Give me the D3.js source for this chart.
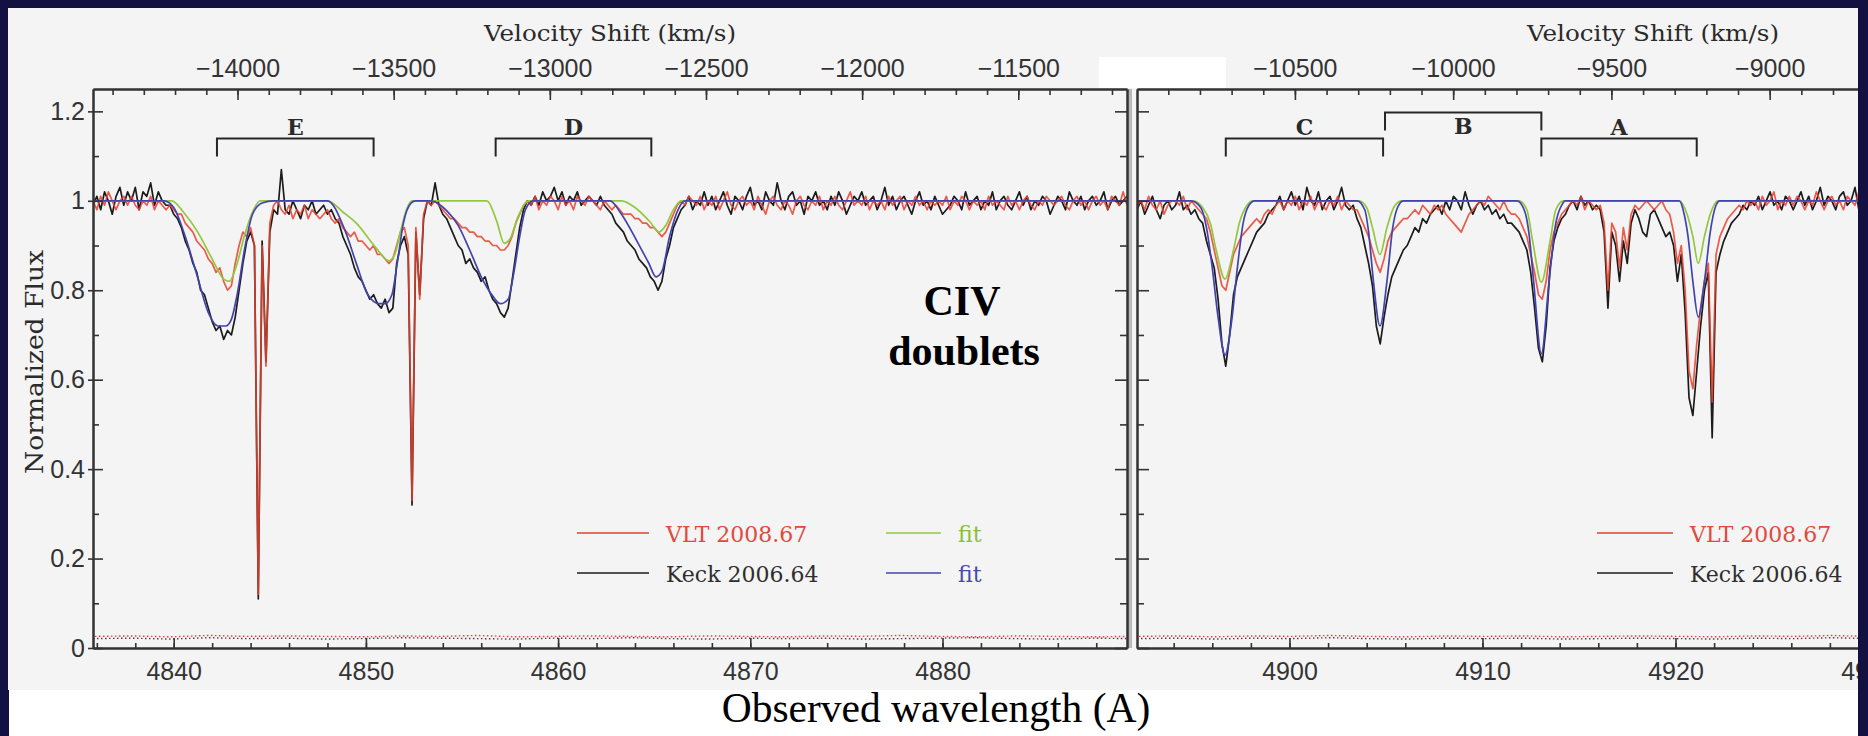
<!DOCTYPE html>
<html>
<head>
<meta charset="utf-8">
<script src="https://cdn.jsdelivr.net/npm/d3@7"></script>
<style>
  html, body { margin: 0; padding: 0; background: #131142; }
  svg { display: block; }
</style>
</head>
<body>
<svg id="chart" width="1868" height="736"></svg>
<script>
// ---------------------------------------------------------------
// CIV absorption doublets: VLT 2008.67 and Keck 2006.64 spectra
// ---------------------------------------------------------------

// CIV 1548 rest line at the quasar redshift (Angstrom), for the velocity axis
const restWavelength = 5075.0;
const lightSpeed = 299792.458;

// Spectra are sampled on a regular wavelength grid (Angstrom)
const gridStep = 0.2;
const leftStart = 4835.8;
const rightStart = 4892.1;

// Normalized flux, left panel (4835.8 - 4889.6 A)
const keckFluxLeft = [
  0.99,1.01,0.98,1.02,1.00,0.97,1.01,1.03,0.99,1.02,
  1.00,1.03,0.98,1.02,1.01,1.04,0.99,1.02,1.00,0.99,
  0.99,0.97,0.96,0.94,0.91,0.89,0.86,0.84,0.80,0.79,
  0.76,0.73,0.71,0.72,0.69,0.71,0.70,0.74,0.80,0.86,
  0.91,0.93,0.90,0.11,0.91,0.64,0.93,0.98,0.97,1.07,
  0.98,0.97,1.00,0.98,0.96,0.99,0.98,1.00,0.97,0.98,
  0.99,0.97,0.98,0.96,0.95,0.92,0.90,0.88,0.85,0.83,
  0.82,0.80,0.78,0.79,0.77,0.76,0.78,0.75,0.76,0.86,
  0.90,0.92,0.88,0.32,0.93,0.79,0.96,1.00,0.99,1.04,
  0.99,0.97,0.96,0.94,0.92,0.90,0.89,0.86,0.87,0.85,
  0.84,0.82,0.83,0.80,0.78,0.77,0.75,0.74,0.76,0.82,
  0.88,0.94,0.98,1.00,0.99,1.01,0.99,1.02,1.00,1.01,
  1.03,1.00,1.02,0.99,1.01,1.00,1.02,0.99,1.00,1.01,
  1.00,0.99,1.01,0.99,0.98,0.97,0.95,0.94,0.93,0.91,
  0.90,0.89,0.87,0.86,0.85,0.83,0.82,0.80,0.82,0.87,
  0.90,0.94,0.96,0.98,0.99,1.01,0.98,1.00,0.99,1.02,
  0.99,1.01,0.98,1.00,1.02,0.99,0.97,1.01,1.00,0.98,
  1.01,1.03,0.99,1.00,0.98,1.02,1.00,0.99,1.04,1.00,
  0.98,1.01,1.02,0.99,1.00,0.97,1.01,1.00,1.02,0.99,
  1.00,0.98,1.01,0.99,1.02,1.00,0.97,0.99,1.01,1.00,
  1.02,0.99,1.00,1.01,0.98,1.00,1.03,0.99,1.01,0.98,
  1.00,1.01,0.99,0.97,1.00,1.02,0.99,1.00,0.98,1.01,
  0.99,0.97,0.98,0.99,1.01,1.00,0.98,1.02,0.99,1.00,
  1.01,0.98,1.00,0.99,1.02,0.98,1.00,1.01,0.99,0.98,
  1.00,1.02,0.99,1.01,0.98,1.00,0.99,1.01,1.00,0.97,
  0.99,1.01,1.00,0.98,1.02,1.00,0.99,1.01,0.98,1.00,
  1.01,0.99,1.00,1.02,0.98,1.00,1.01,0.99,1.00,1.01
];
const vltFluxLeft = [
  1.00,0.98,1.01,0.99,1.02,1.00,0.98,1.00,1.01,0.99,
  1.01,0.99,0.98,1.00,0.99,1.01,0.98,1.00,0.99,0.98,
  0.99,0.98,0.97,0.97,0.95,0.94,0.93,0.91,0.90,0.89,
  0.87,0.86,0.84,0.85,0.82,0.80,0.81,0.86,0.90,0.93,
  0.92,0.94,0.90,0.12,0.90,0.63,0.95,0.99,1.00,0.98,
  0.97,0.99,0.96,0.98,0.97,0.99,0.96,0.98,0.97,0.96,
  0.97,0.98,0.96,0.95,0.96,0.94,0.93,0.92,0.93,0.91,
  0.91,0.90,0.89,0.90,0.88,0.88,0.87,0.86,0.87,0.90,
  0.93,0.94,0.90,0.33,0.94,0.78,0.97,1.00,0.99,1.00,
  0.99,0.98,0.97,0.96,0.96,0.95,0.94,0.94,0.93,0.93,
  0.92,0.92,0.91,0.91,0.90,0.90,0.89,0.89,0.90,0.92,
  0.95,0.97,0.99,1.00,0.99,1.01,0.98,1.00,0.99,1.01,
  1.00,0.98,1.01,0.99,1.00,0.98,1.01,1.00,0.99,1.01,
  1.00,0.99,0.98,1.00,0.99,0.98,0.99,0.98,0.97,0.97,
  0.97,0.96,0.96,0.95,0.95,0.94,0.94,0.93,0.92,0.93,
  0.95,0.97,0.99,1.00,0.99,1.01,1.00,0.99,1.01,0.98,
  1.00,0.99,1.01,0.98,1.00,1.02,0.99,0.98,1.00,1.01,
  0.99,1.00,0.98,1.01,0.99,0.97,1.00,1.01,0.99,0.98,
  1.00,0.99,0.97,1.00,1.01,0.99,0.98,1.00,0.99,1.01,
  0.98,1.00,0.99,1.01,0.99,0.98,1.00,1.02,0.99,1.00,
  0.99,1.01,0.98,1.00,0.99,1.00,0.98,1.01,0.99,1.00,
  1.01,0.98,1.00,0.99,1.01,0.99,1.00,0.98,1.00,0.99,
  1.00,0.99,1.01,0.98,1.00,0.99,1.01,1.00,0.98,1.00,
  0.99,1.00,0.98,1.01,0.99,1.00,0.99,0.98,1.01,0.99,
  1.00,0.98,1.00,1.01,0.99,0.98,1.00,0.99,1.01,1.00,
  0.99,1.00,1.01,0.99,0.98,1.00,1.01,0.99,1.00,0.98,
  1.00,1.01,0.99,1.00,0.98,1.01,1.00,0.99,1.02,0.99
];

// Normalized flux, right panel (4892.1 - 4929.9 A)
const keckFluxRight = [
  0.98,1.00,0.97,0.99,1.01,0.98,0.96,0.99,1.00,0.98,
  0.99,1.02,0.98,0.99,0.97,0.98,0.96,0.95,0.91,0.88,
  0.85,0.78,0.68,0.63,0.70,0.79,0.83,0.85,0.87,0.89,
  0.91,0.93,0.94,0.95,0.97,0.98,0.99,1.01,0.98,1.00,
  1.02,0.99,1.01,0.98,1.03,1.00,0.99,1.02,0.98,1.00,
  1.01,0.98,1.00,1.03,0.99,0.98,0.99,0.96,0.94,0.90,
  0.86,0.81,0.72,0.68,0.74,0.79,0.83,0.85,0.87,0.89,
  0.90,0.92,0.94,0.93,0.96,0.95,0.97,0.98,0.99,0.97,
  1.00,0.98,1.01,1.00,0.98,1.02,0.99,0.97,0.99,1.00,
  0.98,0.99,0.97,0.98,0.96,0.97,0.95,0.95,0.94,0.93,
  0.91,0.89,0.84,0.76,0.67,0.64,0.72,0.85,0.91,0.94,
  0.96,0.97,0.99,1.00,0.98,1.01,0.99,1.00,0.98,0.99,
  0.98,0.93,0.76,0.93,0.90,0.82,0.91,0.86,0.95,0.98,
  0.96,0.93,0.92,0.97,0.98,0.96,0.94,0.92,0.93,0.90,
  0.82,0.88,0.75,0.56,0.52,0.62,0.72,0.80,0.84,0.47,
  0.84,0.88,0.91,0.93,0.95,0.96,0.97,0.99,0.98,1.00,
  0.99,1.01,0.98,1.00,1.02,0.99,1.00,0.98,1.01,1.00,
  0.98,1.00,1.02,0.99,1.01,0.98,1.00,1.03,0.99,1.01,
  1.00,0.98,1.01,1.02,0.99,1.00,1.03,0.98,1.01,0.99
];
const vltFluxRight = [
  0.99,1.00,0.98,1.01,0.99,0.98,1.00,0.97,0.99,1.00,
  1.00,0.99,1.01,0.98,1.00,0.99,0.98,0.97,0.96,0.93,
  0.89,0.85,0.81,0.80,0.84,0.88,0.90,0.92,0.93,0.94,
  0.95,0.96,0.95,0.97,0.98,0.97,0.99,1.00,0.98,1.00,
  0.99,1.01,0.98,1.00,0.99,1.01,0.98,1.00,0.99,0.98,
  1.00,0.99,1.01,0.98,1.00,0.99,0.98,0.98,0.96,0.94,
  0.92,0.89,0.86,0.84,0.87,0.91,0.93,0.94,0.95,0.96,
  0.96,0.97,0.98,0.97,0.99,0.98,0.97,0.99,0.98,0.99,
  0.97,0.96,0.95,0.94,0.93,0.95,0.97,0.98,0.99,1.00,
  0.99,1.01,1.00,0.99,0.98,1.00,0.98,0.97,0.97,0.96,
  0.94,0.92,0.88,0.84,0.79,0.78,0.82,0.89,0.93,0.95,
  0.97,0.98,0.99,1.00,0.99,1.01,0.98,1.00,0.99,0.98,
  0.99,0.95,0.80,0.95,0.93,0.85,0.94,0.89,0.97,0.99,
  0.98,0.99,1.00,0.99,0.98,0.99,1.00,0.98,0.97,0.93,
  0.86,0.90,0.80,0.62,0.58,0.68,0.76,0.82,0.86,0.55,
  0.88,0.92,0.94,0.96,0.97,0.98,0.99,0.98,1.00,0.99,
  1.00,0.98,1.01,0.99,1.00,1.02,0.98,1.00,0.99,1.01,
  0.99,1.01,1.00,0.98,1.00,0.99,1.02,1.00,0.98,1.00,
  1.01,0.99,1.00,0.98,1.01,1.00,0.99,1.02,1.00,0.99
];

// Profile fits, as [wavelength, flux] nodes
const keckFitLeft = [
  [4835.8,1],[4839.5,1],[4840.0,0.985],[4840.6,0.92],[4841.2,0.835],[4841.8,0.75],
  [4842.3,0.72],[4842.7,0.72],[4843.0,0.735],[4843.3,0.79],[4843.7,0.895],[4844.1,0.97],
  [4844.6,0.995],[4845.2,1],
  [4848.0,1],[4848.9,0.935],[4849.5,0.86],[4850.1,0.79],[4850.7,0.77],[4851.0,0.77],
  [4851.35,0.79],[4851.65,0.866],[4851.95,0.95],[4852.35,0.995],[4852.6,1],
  [4853.4,1],[4854.2,0.978],[4854.8,0.945],[4855.4,0.89],[4856.0,0.83],[4856.6,0.787],
  [4857.0,0.77],[4857.4,0.78],[4857.7,0.84],[4858.0,0.92],[4858.3,0.98],[4858.7,1],
  [4862.7,1],[4863.3,0.97],[4864.1,0.91],[4864.7,0.862],[4865.1,0.83],[4865.4,0.842],
  [4865.8,0.92],[4866.2,0.976],[4866.6,1],[4889.6,1]
];
const vltFitLeft = [
  [4835.8,1],[4839.9,1],[4840.5,0.975],[4841.25,0.93],[4842.0,0.87],[4842.6,0.825],
  [4842.9,0.82],[4843.3,0.86],[4843.7,0.925],[4844.1,0.975],[4844.5,1],
  [4848.0,1],[4848.8,0.975],[4849.5,0.95],[4850.5,0.896],[4851.2,0.866],[4851.5,0.88],
  [4851.85,0.94],[4852.15,0.985],[4852.4,1],
  [4856.3,1],[4856.8,0.955],[4857.2,0.905],[4857.5,0.915],[4857.9,0.963],[4858.3,0.995],[4858.5,1],
  [4863.3,1],[4864.0,0.985],[4864.8,0.952],[4865.25,0.93],[4865.6,0.945],[4866.0,0.98],
  [4866.4,1],[4889.6,1]
];
const keckFitRight = [
  [4892.1,1],[4894.9,1],[4895.4,0.985],[4895.7,0.94],[4896.0,0.85],[4896.3,0.74],
  [4896.66,0.655],[4897.0,0.73],[4897.3,0.85],[4897.6,0.95],[4897.9,0.99],[4898.2,1],
  [4903.5,1],[4903.9,0.98],[4904.1,0.93],[4904.35,0.82],[4904.69,0.72],[4905.05,0.82],
  [4905.35,0.94],[4905.6,0.985],[4905.9,1],
  [4911.8,1],[4912.2,0.975],[4912.4,0.93],[4912.65,0.82],[4913.05,0.658],[4913.45,0.82],
  [4913.8,0.95],[4914.1,0.99],[4914.3,1],
  [4920.2,1],[4920.45,0.97],[4920.65,0.92],[4920.9,0.82],[4921.18,0.74],[4921.5,0.82],
  [4921.8,0.93],[4922.1,0.99],[4922.3,1],[4930.0,1]
];
const vltFitRight = [
  [4892.1,1],[4895.0,1],[4895.5,0.985],[4895.9,0.95],[4896.2,0.89],[4896.66,0.825],
  [4897.1,0.89],[4897.4,0.95],[4897.8,0.99],[4898.1,1],
  [4903.6,1],[4904.0,0.985],[4904.3,0.94],[4904.69,0.88],[4905.05,0.94],[4905.4,0.985],[4905.8,1],
  [4911.9,1],[4912.3,0.98],[4912.6,0.91],[4913.05,0.818],[4913.5,0.91],[4913.8,0.98],[4914.2,1],
  [4920.2,1],[4920.6,0.97],[4920.9,0.92],[4921.18,0.86],[4921.5,0.92],[4921.8,0.97],
  [4922.2,1],[4930.0,1]
];

// Flux errors, sampled every 2 A from each panel's left edge
const errStep = 2;
const keckErrLeft = [0.021,0.022,0.020,0.023,0.021,0.022,0.020,0.021,0.023,0.022,0.021,0.020,0.022,0.021,
                     0.023,0.021,0.020,0.022,0.021,0.022,0.020,0.021,0.022,0.023,0.021,0.020,0.022,0.021];
const vltErrLeft  = [0.026,0.027,0.025,0.028,0.026,0.027,0.026,0.025,0.027,0.026,0.028,0.025,0.026,0.027,
                     0.026,0.025,0.027,0.026,0.025,0.027,0.026,0.028,0.026,0.025,0.027,0.026,0.025,0.026];
const keckErrRight = [0.021,0.022,0.020,0.022,0.021,0.023,0.021,0.020,0.022,0.021,
                      0.022,0.020,0.021,0.022,0.021,0.020,0.022,0.021,0.023,0.021];
const vltErrRight  = [0.026,0.027,0.025,0.027,0.026,0.028,0.026,0.025,0.027,0.026,
                      0.027,0.025,0.026,0.027,0.026,0.025,0.027,0.026,0.028,0.026];

// Doublet markers: label, blue member and red member wavelengths (A)
const bracketLabels = ["E", "D", "C", "B", "A"];
const bracketBlue = [4842.25, 4856.75, 4896.7, 4904.95, 4913.05];
const bracketRed  = [4850.4, 4864.85, 4904.85, 4913.05, 4921.1];

// Tick values
const fluxTicks = [0, 0.2, 0.4, 0.6, 0.8, 1, 1.2];
const fluxMinorTicks = [0.1, 0.3, 0.5, 0.7, 0.9, 1.1];
const waveTicksLeft = [4840, 4850, 4860, 4870, 4880];
const waveTicksRight = [4900, 4910, 4920, 4930];
const velTicksLeft = [-14000, -13500, -13000, -12500, -12000, -11500];
const velTicksRight = [-10500, -10000, -9500, -9000];

// Text
const seriesNames = ["VLT 2008.67", "Keck 2006.64"];
const fitName = "fit";
const velocityTitle = "Velocity Shift (km/s)";
const fluxTitle = "Normalized Flux";
const waveTitle = "Observed wavelength (A)";
const noteLines = ["CIV", "doublets"];

// ---------------------------------------------------------------
const colors = {
  vlt: "#e8402c", vltText: "#e04a3c",
  keck: "#1c1c1c", keckText: "#2e2e2e",
  vltFit: "#92c83c", keckFit: "#4343ad",
  axis: "#333333", tickText: "#333333"
};
const tickFont = "'Liberation Sans', Arial, Helvetica, sans-serif";
const labelFont = "'DejaVu Serif', Georgia, serif";
const timesFont = "'Liberation Serif', 'Times New Roman', serif";

function velocity(lambda) {
  const r2 = (lambda / restWavelength) ** 2;
  return lightSpeed * (r2 - 1) / (r2 + 1);
}

const svg = d3.select("#chart");
const W = 1868, H = 736;

svg.append("rect").attr("width", W).attr("height", H).attr("fill", "#131142");
svg.append("rect").attr("x", 8).attr("y", 8).attr("width", 1850).attr("height", 682).attr("fill", "#f4f4f4");
svg.append("rect").attr("x", 9).attr("y", 690).attr("width", 1849).attr("height", 46).attr("fill", "#ffffff");

const plotTop = 89, plotBottom = 648;
const y = d3.scaleLinear().domain([0, 1.25]).range([plotBottom, plotTop]);

const panels = [
  { key: "left", domain: [4835.8, 4889.6], range: [93, 1127], start: leftStart,
    keck: keckFluxLeft, vlt: vltFluxLeft, keckFit: keckFitLeft, vltFit: vltFitLeft,
    keckErr: keckErrLeft, vltErr: vltErrLeft, waveTicks: waveTicksLeft, velTicks: velTicksLeft },
  { key: "right", domain: [4892.1, 4930.0], range: [1137, 1868.5], start: rightStart,
    keck: keckFluxRight, vlt: vltFluxRight, keckFit: keckFitRight, vltFit: vltFitRight,
    keckErr: keckErrRight, vltErr: vltErrRight, waveTicks: waveTicksRight, velTicks: velTicksRight }
];

function styleAxis(g, withText) {
  g.select(".domain").attr("stroke", colors.axis).attr("stroke-width", 2);
  g.selectAll(".tick line").attr("stroke", colors.axis).attr("stroke-width", 1.6);
  if (withText) {
    g.selectAll(".tick text")
      .attr("fill", colors.tickText)
      .attr("font-family", tickFont)
      .attr("font-size", 25);
  }
}

panels.forEach(p => {
  const x = d3.scaleLinear().domain(p.domain).range(p.range);
  const v = d3.scaleLinear().domain(p.domain.map(velocity)).range(p.range);
  p.x = x;

  // data layer, clipped to the frame
  const clipId = "clip-" + p.key;
  svg.append("clipPath").attr("id", clipId)
    .append("rect").attr("x", p.range[0]).attr("y", plotTop)
    .attr("width", p.range[1] - p.range[0]).attr("height", plotBottom - plotTop);
  const g = svg.append("g").attr("clip-path", `url(#${clipId})`);

  const sampled = (arr, start, step) => arr.map((f, i) => [start + i * step, f]);
  const line = d3.line().x(d => x(d[0])).y(d => y(d[1]));
  const smooth = d3.line().x(d => x(d[0])).y(d => y(d[1])).curve(d3.curveMonotoneX);

  g.append("path").datum(sampled(p.keckErr, p.domain[0], errStep)).attr("d", line)
    .attr("fill", "none").attr("stroke", "#444").attr("stroke-width", 1.4).attr("stroke-dasharray", "1.5,2.5");
  g.append("path").datum(sampled(p.vltErr, p.domain[0], errStep)).attr("d", line)
    .attr("fill", "none").attr("stroke", colors.vlt).attr("stroke-width", 1.4).attr("stroke-dasharray", "1.5,2.5")
    .attr("stroke-dashoffset", 2);

  g.append("path").datum(sampled(p.keck, p.start, gridStep)).attr("d", line)
    .attr("fill", "none").attr("stroke", colors.keck).attr("stroke-width", 1.7).attr("stroke-linejoin", "round");
  g.append("path").datum(sampled(p.vlt, p.start, gridStep)).attr("d", line)
    .attr("fill", "none").attr("stroke", colors.vlt).attr("stroke-width", 1.7).attr("stroke-linejoin", "round")
    .attr("stroke-opacity", 0.85);
  g.append("path").datum(p.vltFit).attr("d", smooth)
    .attr("fill", "none").attr("stroke", colors.vltFit).attr("stroke-width", 1.7);
  g.append("path").datum(p.keckFit).attr("d", smooth)
    .attr("fill", "none").attr("stroke", colors.keckFit).attr("stroke-width", 1.7);

  // bottom wavelength axis: minor ticks every 2 A, labelled majors every 10 A
  const waveMinor = d3.range(Math.ceil(p.domain[0] / 2) * 2, p.domain[1] + 0.01, 2);
  styleAxis(svg.append("g").attr("transform", `translate(0,${plotBottom})`)
    .call(d3.axisBottom(x).tickValues(waveMinor).tickSize(-5).tickSizeOuter(0).tickFormat("")), false);
  styleAxis(svg.append("g").attr("transform", `translate(0,${plotBottom})`)
    .call(d3.axisBottom(x).tickValues(p.waveTicks).tickSize(-10).tickSizeOuter(0)
      .tickPadding(14).tickFormat(d3.format("d"))), true);

  // top velocity axis: minor ticks every 100 km/s, labelled majors every 500 km/s
  const vd = v.domain();
  const velMinor = d3.range(Math.ceil(vd[0] / 100) * 100, vd[1], 100);
  styleAxis(svg.append("g").attr("transform", `translate(0,${plotTop})`)
    .call(d3.axisTop(v).tickValues(velMinor).tickSize(-6).tickSizeOuter(0).tickFormat("")), false);
  styleAxis(svg.append("g").attr("transform", `translate(0,${plotTop})`)
    .call(d3.axisTop(v).tickValues(p.velTicks).tickSize(-11).tickSizeOuter(0)
      .tickPadding(12).tickFormat(d3.format("d"))), true);

  // velocity title
  svg.append("text")
    .attr("x", p.key === "left" ? 610 : 1653).attr("y", 41)
    .attr("text-anchor", "middle")
    .attr("font-family", labelFont).attr("font-size", 23)
    .attr("textLength", 252).attr("lengthAdjust", "spacingAndGlyphs")
    .attr("fill", "#2a2a2a")
    .text(velocityTitle);
});

const [L, R] = panels;

// flux axes
const leftAxis = svg.append("g").attr("transform", `translate(${L.range[0]},0)`)
  .call(d3.axisLeft(y).tickValues(fluxTicks).tickSize(0).tickSizeOuter(0).tickPadding(8)
    .tickFormat(d3.format("~g")));
styleAxis(leftAxis, true);
leftAxis.selectAll(".tick line").attr("x1", -5).attr("x2", 10);
styleAxis(svg.append("g").attr("transform", `translate(${L.range[0]},0)`)
  .call(d3.axisLeft(y).tickValues(fluxMinorTicks).tickSize(-6).tickSizeOuter(0).tickFormat("")), false);

// right edge of left panel (inward ticks), with its grey border band
svg.append("rect").attr("x", L.range[1]).attr("y", plotTop).attr("width", 5)
  .attr("height", plotBottom - plotTop).attr("fill", "#b8b8b8");
styleAxis(svg.append("g").attr("transform", `translate(${L.range[1]},0)`)
  .call(d3.axisRight(y).tickValues(fluxTicks).tickSize(-12).tickSizeOuter(0).tickFormat("")), false);
styleAxis(svg.append("g").attr("transform", `translate(${L.range[1]},0)`)
  .call(d3.axisRight(y).tickValues(fluxMinorTicks).tickSize(-7).tickSizeOuter(0).tickFormat("")), false);

// left edge of right panel
styleAxis(svg.append("g").attr("transform", `translate(${R.range[0]},0)`)
  .call(d3.axisLeft(y).tickValues(fluxTicks).tickSize(-12).tickSizeOuter(0).tickFormat("")), false);
styleAxis(svg.append("g").attr("transform", `translate(${R.range[0]},0)`)
  .call(d3.axisLeft(y).tickValues(fluxMinorTicks).tickSize(-7).tickSizeOuter(0).tickFormat("")), false);

// doublet brackets; a bracket touching the previous one is raised a level
let prevHi = -Infinity, prevRow = 0;
bracketLabels.forEach((label, i) => {
  const lo = bracketBlue[i], hi = bracketRed[i];
  const row = (lo - prevHi < 0.3) ? 1 - prevRow : 0;
  prevHi = hi; prevRow = row;
  const panel = panels.find(p => lo >= p.domain[0] && lo <= p.domain[1]);
  const x = panel.x;
  const barY = row ? 112.5 : 138.5;
  const footY = barY + 18;
  svg.append("path")
    .attr("d", `M${x(lo)},${footY}V${barY}H${x(hi)}V${footY}`)
    .attr("fill", "none").attr("stroke", "#262626").attr("stroke-width", 2);
  svg.append("text")
    .attr("x", (x(lo) + x(hi)) / 2)
    .attr("y", row ? barY + 21 : barY - 3.5)
    .attr("text-anchor", "middle")
    .attr("font-family", labelFont).attr("font-size", 22).attr("font-weight", "bold")
    .attr("fill", "#2a2a2a")
    .text(label);
});

// legends
function legendRow(x0, x1, yRow, color, textColor, label) {
  svg.append("line").attr("x1", x0).attr("x2", x1).attr("y1", yRow).attr("y2", yRow)
    .attr("stroke", color).attr("stroke-width", 1.7);
  svg.append("text").attr("x", x1 + 17).attr("y", yRow + 8.5)
    .attr("font-family", labelFont).attr("font-size", 22)
    .attr("fill", textColor).text(label);
}
legendRow(577, 649, 533, colors.vlt, colors.vltText, seriesNames[0]);
legendRow(577, 649, 573, colors.keck, colors.keckText, seriesNames[1]);
legendRow(886, 941, 533, colors.vltFit, "#86bf3a", fitName);
legendRow(886, 941, 573, colors.keckFit, "#4a4aa6", fitName);
legendRow(1597, 1673, 533, colors.vlt, colors.vltText, seriesNames[0]);
legendRow(1597, 1673, 573, colors.keck, colors.keckText, seriesNames[1]);

// annotation
svg.append("text").attr("x", 962).attr("y", 315).attr("text-anchor", "middle")
  .attr("font-family", timesFont).attr("font-weight", "bold").attr("font-size", 42)
  .attr("fill", "#000").text(noteLines[0]);
svg.append("text").attr("x", 964).attr("y", 365).attr("text-anchor", "middle")
  .attr("font-family", timesFont).attr("font-weight", "bold").attr("font-size", 42)
  .attr("fill", "#000").text(noteLines[1]);

// flux title
svg.append("text")
  .attr("transform", "translate(43,362) rotate(-90)")
  .attr("text-anchor", "middle")
  .attr("font-family", labelFont).attr("font-size", 25)
  .attr("textLength", 224).attr("lengthAdjust", "spacingAndGlyphs")
  .attr("fill", "#2a2a2a")
  .text(fluxTitle);

// wavelength title
svg.append("text").attr("x", 936).attr("y", 722).attr("text-anchor", "middle")
  .attr("font-family", timesFont).attr("font-size", 41.5)
  .attr("fill", "#000").text(waveTitle);

// blank patch over the panel seam in the top axis
svg.append("rect").attr("x", 1099).attr("y", 57).attr("width", 127).attr("height", 31).attr("fill", "#ffffff");

// outer border on the right
svg.append("rect").attr("x", 1858).attr("y", 0).attr("width", 10).attr("height", H).attr("fill", "#131142");
</script>
</body>
</html>
